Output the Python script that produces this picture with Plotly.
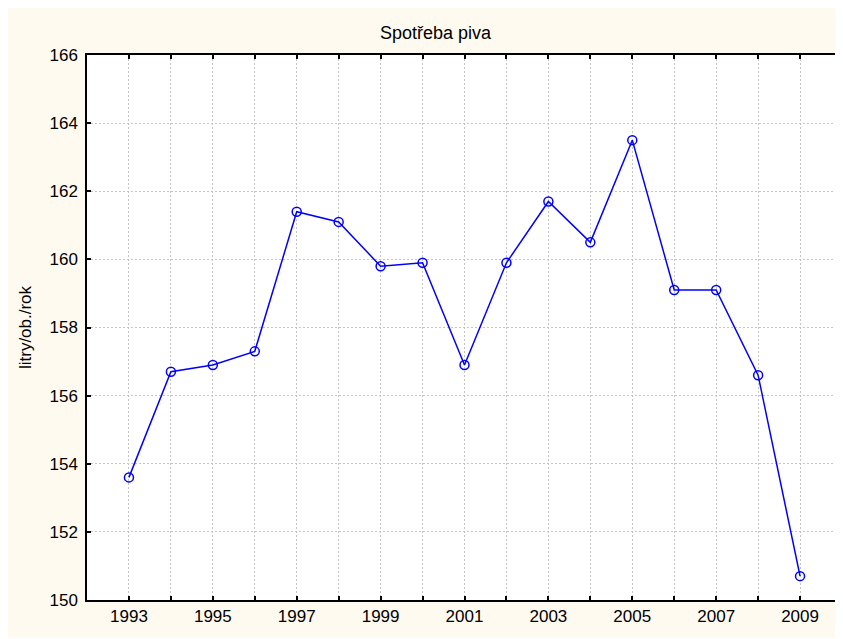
import plotly.graph_objects as go

years = [1993, 1994, 1995, 1996, 1997, 1998, 1999, 2000, 2001,
         2002, 2003, 2004, 2005, 2006, 2007, 2008, 2009]
consumption = [153.6, 156.7, 156.9, 157.3, 161.4, 161.1, 159.8, 159.9, 156.9,
               159.9, 161.7, 160.5, 163.5, 159.1, 159.1, 156.6, 150.7]
x_tick_labels = [str(y) if y % 2 == 1 else "" for y in years]
y_ticks = [150, 152, 154, 156, 158, 160, 162, 164, 166]

# Figure is placed at (8, 8) on the page by the default body margin.
W, H = 855, 630
L, R, T, B = 79, 834, 47, 596

fig = go.Figure()
fig.add_trace(go.Scatter(
    x=years, y=consumption, mode="lines+markers",
    line=dict(color="#0000FF", width=1.5),
    marker=dict(symbol="circle-open", size=9, color="#0000FF",
                line=dict(width=1.5, color="#0000FF")),
    showlegend=False,
))

cream = "#FEFAF0"
font = "Liberation Sans, Arial, sans-serif"
axis_common = dict(
    showline=True, mirror="ticks", linecolor="black", linewidth=1.5,
    ticks="inside", ticklen=4, tickwidth=1.5, tickcolor="black",
    showgrid=True, gridcolor="#C4C4C4", gridwidth=1, griddash="2px,2px",
    zeroline=False, tickfont=dict(size=17, family=font, color="black"),
)
fig.update_layout(
    width=W, height=H,
    margin=dict(l=L, r=W - R, t=T, b=H - B, pad=0),
    paper_bgcolor=cream, plot_bgcolor="white",
    font=dict(family=font, size=17, color="black"),
    title=dict(text="Spotřeba piva", x=0.5, xanchor="center",
               y=1 - 25 / H, yanchor="middle", xref="container", yref="container",
               font=dict(size=18, family=font, color="black")),
    xaxis=dict(range=[1992, 2010], tickvals=years, ticktext=x_tick_labels,
               **axis_common),
    yaxis=dict(range=[150, 166], tickvals=y_ticks, ticklabelstandoff=4,
               title=dict(text="litry/ob./rok", font=dict(size=17), standoff=14),
               **axis_common),
)

fig.write_html("out.html")
